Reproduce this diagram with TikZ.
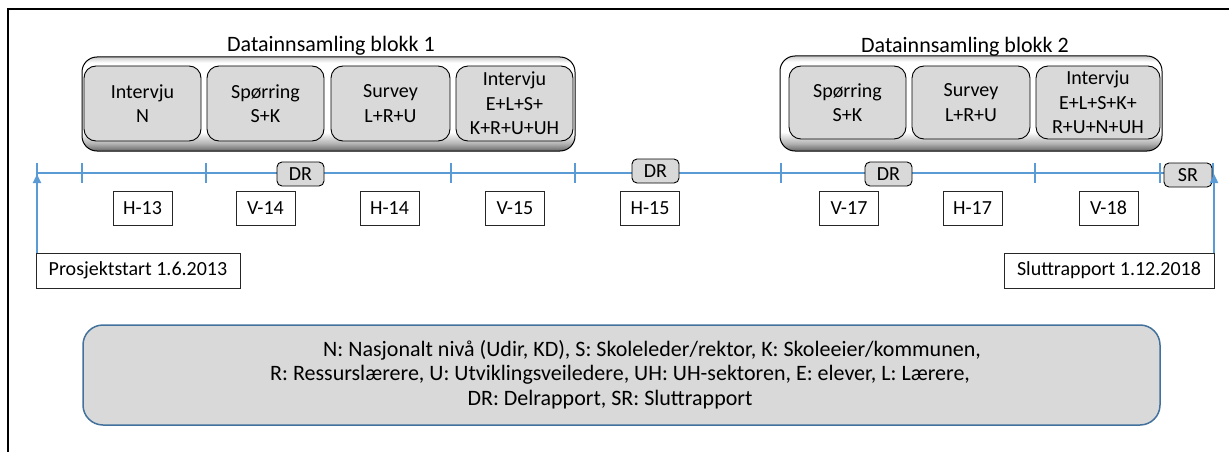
\documentclass[tikz,border=0pt]{standalone}
\usepackage{fontspec}
\setmainfont{Carlito}
\usetikzlibrary{arrows.meta}
\definecolor{boxgray}{HTML}{D9D9D9}
\definecolor{tlblue}{HTML}{5B9BD5}
\definecolor{legblue}{HTML}{41719C}
\pgfdeclareverticalshading{bevelshade}{100bp}{color(0bp)=(black!60); color(25bp)=(black!60); color(29bp)=(black!30); color(35bp)=(white); color(72bp)=(white); color(75bp)=(black!20); color(100bp)=(black!20)}
\begin{document}
\begin{tikzpicture}[x=1pt,y=-1pt,
  txt/.style={font=\fontsize{22}{26}\selectfont, inner sep=0pt},
  titletxt/.style={font=\fontsize{22}{26}\selectfont, inner sep=0pt},
  outerblk/.style={draw=black, line width=1pt, rounded corners=15pt, shading=bevelshade, inner sep=0pt},
  innerbox/.style={draw=black, line width=0.9pt, fill=boxgray, rounded corners=12pt, minimum height=75pt, inner sep=0pt, align=center, font=\fontsize{20}{24.5}\selectfont},
  repbox/.style={draw=black, line width=0.9pt, fill=boxgray, rounded corners=5pt, minimum width=47pt, minimum height=24pt, inner sep=0pt, font=\fontsize{20}{24}\selectfont},
  labbox/.style={draw=black!85, line width=0.9pt, fill=white, minimum width=59pt, minimum height=34pt, inner sep=0pt, font=\fontsize{20}{24}\selectfont},
  datebox/.style={draw=black!85, line width=0.9pt, fill=white, minimum height=35pt, inner sep=0pt, font=\fontsize{20}{24}\selectfont},
  tl/.style={draw=tlblue, line width=1.3pt},
  tick/.style={draw=tlblue, line width=1.3pt},
  uparrow/.style={draw=tlblue, line width=2.2pt, -{Triangle[length=9pt,width=8pt]}},
  legendbox/.style={draw=legblue, line width=1.5pt, fill=boxgray, rounded corners=20pt, inner sep=0pt},
  frame/.style={draw=black, line width=2pt}
]
\useasboundingbox (0,0) rectangle (1229,452);
% frame
\draw[frame] (8,452) -- (8,9.5) -- (1229,9.5);

% blocks
\node[outerblk, minimum width=493pt, minimum height=94pt] (blk1) at (328.5,104) {};
\node[outerblk, minimum width=382pt, minimum height=95pt] (blk2) at (971,103.5) {};
\node[titletxt] (t1) at (331,46) {Datainnsamling blokk 1};
\node[titletxt] (t2) at (965,47) {Datainnsamling blokk 2};

\node[innerbox, minimum width=117pt] (b11) at (142.5,103.5) {Intervju\\N};
\node[innerbox, minimum width=117pt] (b12) at (265.5,103.5) {Spørring\\S+K};
\node[innerbox, minimum width=119pt] (b13) at (390.5,103.5) {Survey\\L+R+U};
\node[innerbox, minimum width=117pt] (b14) at (514.5,103.5) {Intervju\\E+L+S+\\K+R+U+UH};

\node[innerbox, minimum width=117pt, minimum height=73pt] (b21) at (847.5,102.5) {Spørring\\S+K};
\node[innerbox, minimum width=118pt, minimum height=73pt] (b22) at (971,102.5) {Survey\\L+R+U};
\node[innerbox, minimum width=124pt, minimum height=73pt] (b23) at (1098,102.5) {Intervju\\E+L+S+K+\\R+U+N+UH};

% timeline
\coordinate (tlL) at (37,173);
\coordinate (tlR) at (1213,173);
\draw[tl] (tlL) -- (tlR);
\foreach \x in {37,82,206,451,575,781,1035,1160,1213}
  \draw[tick] (\x,163) -- (\x,183);

\node[repbox] (dr1) at (300.5,174) {DR};
\node[repbox] (dr2) at (655.5,171) {DR};
\node[repbox] (dr3) at (888.5,174) {DR};
\node[repbox, minimum width=48pt] (sr) at (1188,175) {SR};

% semester labels
\node[labbox] (h13) at (142.5,208) {H-13};
\node[labbox] (v14) at (265.5,208) {V-14};
\node[labbox] (h14) at (389.5,208) {H-14};
\node[labbox] (v15) at (515,208) {V-15};
\node[labbox] (h15) at (650,208) {H-15};
\node[labbox] (v17) at (849,208) {V-17};
\node[labbox] (h17) at (972.5,208) {H-17};
\node[labbox] (v18) at (1108.5,208) {V-18};

% start / end
\node[datebox, minimum width=204pt] (ps) at (138,270.5) {Prosjektstart 1.6.2013};
\node[datebox, minimum width=210pt] (sl) at (1109,270.5) {Sluttrapport 1.12.2018};
\coordinate (arL) at (37,174);
\coordinate (arR) at (1214,174);
\draw[uparrow] (ps.north west -| arL) -- (arL);
\draw[uparrow] (sl.north east -| arR) -- (arR);

% legend
\node[legendbox, minimum width=1077pt, minimum height=100pt] (leg) at (621.5,375) {};
\node[txt] (lg1) at (652,350) {N: Nasjonalt nivå (Udir, KD), S: Skoleleder/rektor, K: Skoleeier/kommunen,};
\node[txt] (lg2) at (620,375) {R: Ressurslærere, U: Utviklingsveiledere, UH: UH-sektoren, E: elever, L: Lærere,};
\node[txt] (lg3) at (610,400) {DR: Delrapport, SR: Sluttrapport};
\end{tikzpicture}
\end{document}
